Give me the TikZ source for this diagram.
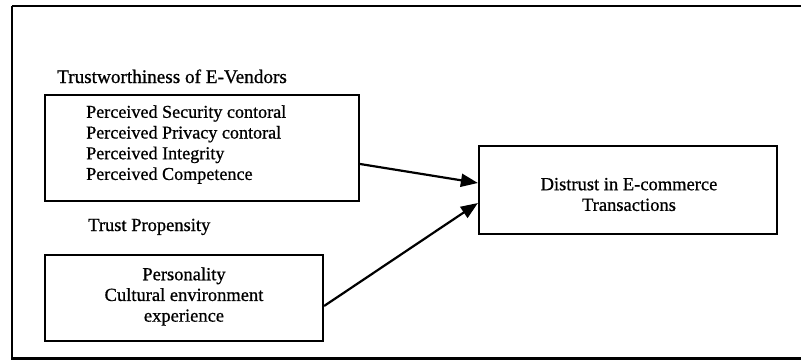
\documentclass[tikz,border=0pt]{standalone}
\usepackage{fontspec}
\setmainfont{Liberation Serif}[FakeBold=0.8]
\usetikzlibrary{arrows.meta,calc}
\tikzset{
  box/.style={draw=black, line width=2.2pt, rectangle, inner sep=0pt},
  txt/.style={inner sep=0pt, font=\fontsize{18.5}{20.7}\selectfont},
  conn/.style={line width=2.2pt, -{Triangle[length=17pt,width=13pt]}},
}
\begin{document}
\begin{tikzpicture}[x=1pt,y=-1pt]
\useasboundingbox (0,0) rectangle (801,360);
\begin{scope}
\clip (0,0) rectangle (801,360);
\draw[line width=2.2pt] (12,6) -- (815,6);
\draw[line width=2.2pt] (12,6) -- (12,358.5) -- (815,358.5);
\end{scope}
% headings
\node[txt, font=\fontsize{19.2}{20.7}\selectfont, anchor=base west] (h1) at (57,83) {Trustworthiness of E-Vendors};
\node[txt, anchor=base west] (h2) at (88,231) {Trust Propensity};
% boxes
\node[box, minimum width=314pt, minimum height=106pt] (b1) at (202,148) {};
\node[txt, font=\fontsize{18.1}{20.7}\selectfont, anchor=west, align=left] (t1) at (86,144.5) {Perceived Security contoral\\Perceived Privacy contoral\\Perceived Integrity\\Perceived Competence};
\node[box, minimum width=278pt, minimum height=86pt] (b2) at (184,298) {};
\node[txt, align=center] (t2) at (184,296.5) {Personality\\Cultural environment\\experience};
\node[box, minimum width=298pt, minimum height=88pt] (b3) at (628,190) {};
\node[txt, align=center] (t3) at (629,194.5) {Distrust in E-commerce\\Transactions};
% connectors
\draw[conn] ($(b1.east)+(0,16)$) -- ($(b3.west)+(0,-7)$);
\draw[conn] ($(b2.east)+(0,8)$) -- ($(b3.west)+(0,13)$);
\end{tikzpicture}
\end{document}
